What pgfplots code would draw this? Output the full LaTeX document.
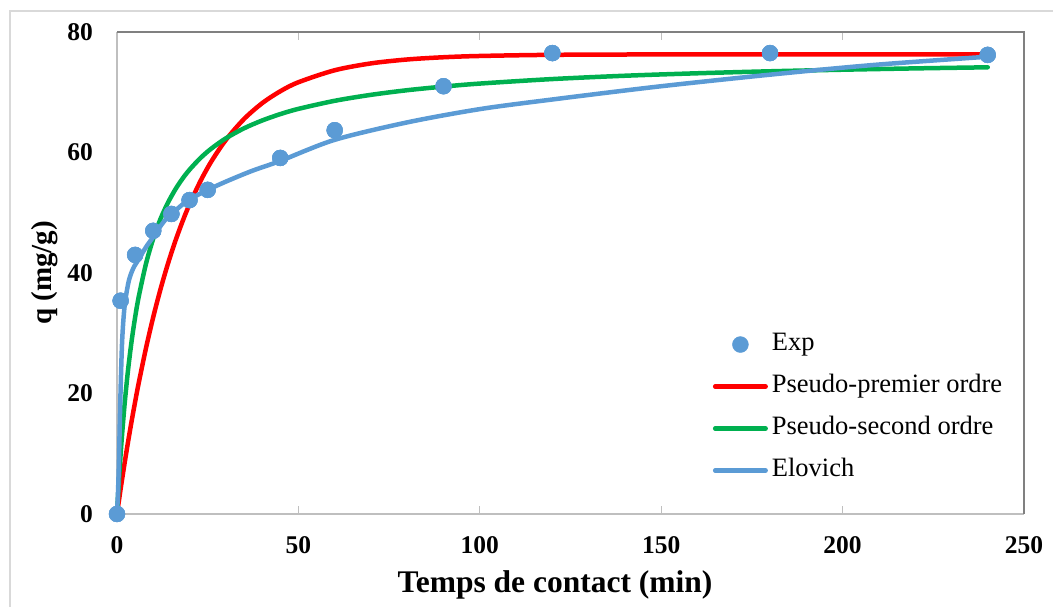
\documentclass[border=0pt]{standalone}
\usepackage{fontspec}
\setmainfont{Liberation Serif}
\usepackage{pgfplots}
\pgfplotsset{compat=1.18}
\definecolor{exred}{HTML}{FF0000}
\definecolor{exgreen}{HTML}{00B050}
\definecolor{exblue}{HTML}{5B9BD5}
\definecolor{axgray}{HTML}{BFBFBF}
\definecolor{framegray}{HTML}{808080}
\definecolor{chartgray}{HTML}{D9D9D9}

% experimental kinetics
\pgfplotstableread{
t q
0 0
1 35.4
5 43.0
10 47.0
15 49.8
20 52.1
25 53.8
45 59.1
60 63.7
90 71.0
120 76.5
180 76.5
240 76.2
}\expdata

% pseudo-first-order model
\pgfplotstableread{
t q
0 0
1 4.16
2 8.08
3 11.80
4 15.31
5 18.63
6 21.78
8 27.56
10 32.72
12 37.33
14 41.46
16 45.16
18 48.46
20 51.41
23 55.25
26 58.51
30 62.08
35 65.55
40 68.18
45 70.16
50 71.66
60 73.65
70 74.79
80 75.44
90 75.81
100 76.02
120 76.21
150 76.28
180 76.30
210 76.30
240 76.30
}\pfo

% pseudo-second-order model
\pgfplotstableread{
t q
0 0
1 9.94
2 17.58
3 23.65
4 28.58
5 32.66
6 36.09
8 41.56
10 45.72
12 48.99
14 51.62
16 53.79
18 55.61
20 57.15
23 59.08
26 60.65
30 62.35
35 64.01
40 65.31
45 66.37
50 67.24
60 68.58
70 69.57
80 70.34
90 70.94
100 71.44
120 72.19
140 72.74
160 73.15
180 73.48
200 73.74
220 73.96
240 74.14
}\pso

% Elovich model
\pgfplotstableread{
t q
0 0
0.3 4
0.55 9
0.8 16
1.1 23
1.4 28.5
1.8 32.5
2.3 35.5
3.3 38.8
4.5 40.8
6 42.3
8 44.3
10 46
13 48.6
16 50.3
19 51.8
23 53.2
29 54.9
37 56.9
45 58.6
60 62.1
80 65
100 67.2
120 68.8
150 71
183 73.1
210 74.6
240 75.9
}\elovich

\begin{document}
\begin{tikzpicture}[x=1pt,y=1pt]
\useasboundingbox (0,0) rectangle (1053,607);
\draw[chartgray, line width=1.2pt] (10,0) -- (10,596) -- (1053,596);
\begin{axis}[
  at={(117pt,93pt)}, anchor=south west,
  width=907pt, height=482pt, scale only axis,
  xmin=0, xmax=250, ymin=0, ymax=80,
  xtick={0,50,...,250}, ytick={0,20,...,80},
  axis line style={draw=none},
  tick align=inside, major tick length=8pt,
  xtick style={draw=axgray, line width=1pt},
  ytick style={draw=none},
  /pgf/number format/assume math mode=true,
  tick label style={font=\fontsize{25.5}{30}\selectfont\bfseries},
  xticklabel style={anchor=center, yshift=-31pt},
  yticklabel style={anchor=east, inner sep=0pt, xshift=-24pt},
  xlabel={Temps de contact (min)},
  xlabel style={font=\fontsize{31.5}{36}\selectfont\bfseries, at={(axis description cs:0.483,-0.148)}, anchor=center},
  ylabel={q (mg/g)},
  ylabel style={font=\fontsize{29}{34}\selectfont\bfseries, at={(axis description cs:-0.0794,0.5)}, anchor=center},
  clip=false,
  legend cell align=left,
  legend style={at={(rel axis cs:0.6535,0.381)}, anchor=north west, draw=none, fill=none,
    font=\fontsize{26.5}{31}\selectfont, row sep=18pt, column sep=4pt,
    nodes={inner sep=0pt, text height=18pt, text depth=6pt}},
]
\draw[axgray, line width=1.5pt] (rel axis cs:0,1) -- (rel axis cs:0,0) -- (rel axis cs:1,0);
\draw[framegray, line width=1.5pt] (rel axis cs:0,1) -- (rel axis cs:1,1) -- (rel axis cs:1,0);

\addplot[only marks, mark=*, mark size=8pt, exblue,
  legend image code/.code={\path[draw=none,fill=none] (0pt,0pt) -- (50.5pt,0pt); \fill[exblue] (25.25pt,0pt) circle (8pt);}] table[x=t,y=q] {\expdata};
\addlegendentry{Exp}

\addplot[exred, line width=4.5pt, line cap=round, smooth,
  legend image code/.code={\draw[exred, line width=4.5pt, line cap=round] (0pt,0pt) -- (50.5pt,0pt);}] table[x=t,y=q] {\pfo};
\addlegendentry{Pseudo-premier ordre}

\addplot[exgreen, line width=4.5pt, line cap=round, smooth,
  legend image code/.code={\draw[exgreen, line width=4.5pt, line cap=round] (0pt,0pt) -- (50.5pt,0pt);}] table[x=t,y=q] {\pso};
\addlegendentry{Pseudo-second ordre}

\addplot[exblue, line width=4.5pt, line cap=round, smooth,
  legend image code/.code={\draw[exblue, line width=4.5pt, line cap=round] (0pt,0pt) -- (50.5pt,0pt);}] table[x=t,y=q] {\elovich};
\addlegendentry{Elovich}

\addplot[only marks, mark=*, mark size=8pt, exblue, forget plot] table[x=t,y=q] {\expdata};
\end{axis}
\end{tikzpicture}
\end{document}
